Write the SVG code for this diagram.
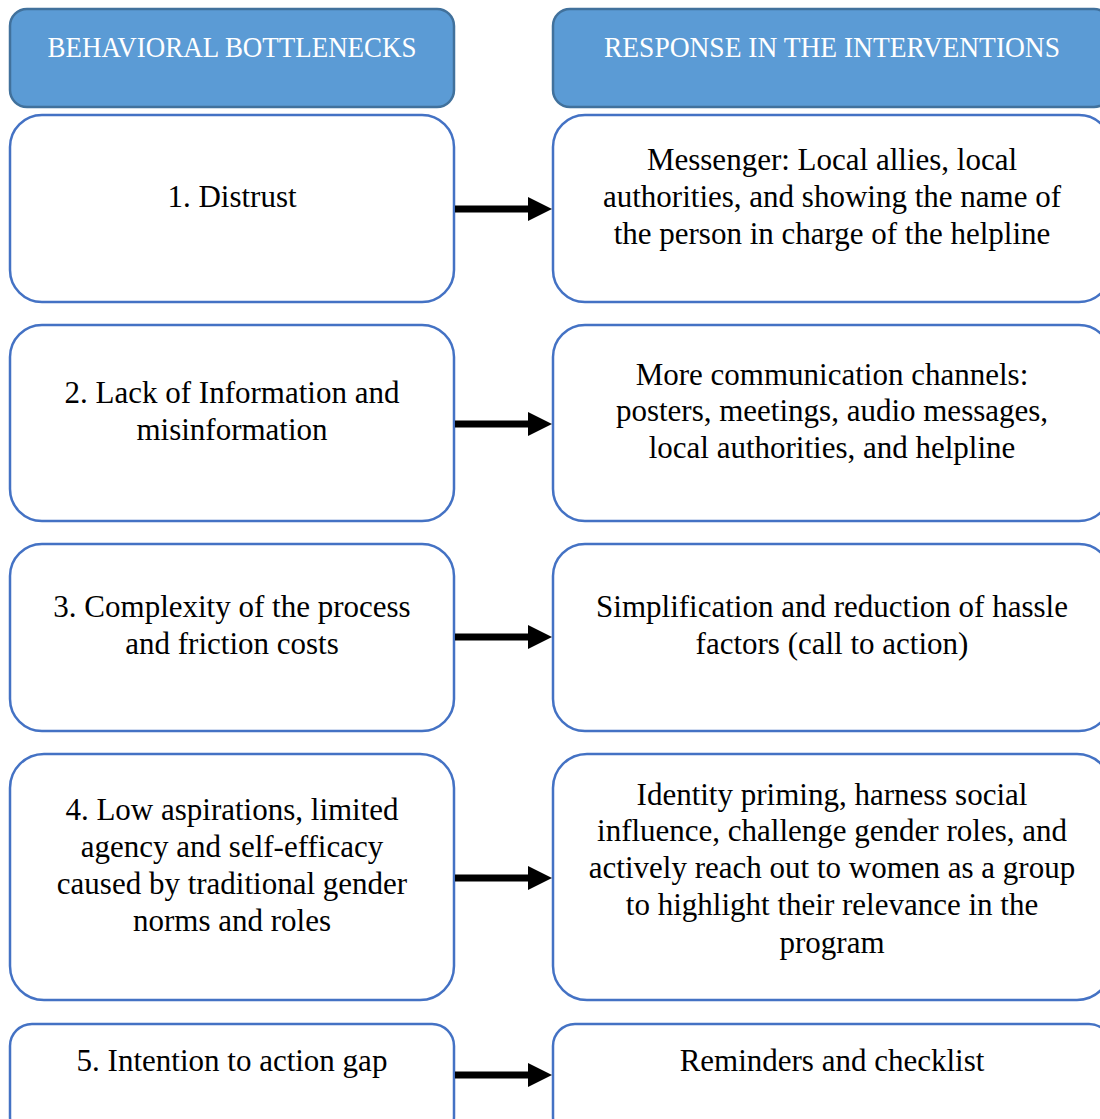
<svg xmlns="http://www.w3.org/2000/svg" width="1100" height="1119" viewBox="0 0 1100 1119">
<defs>
<style>
.hdr{fill:#5B9BD5;stroke:#41719C;stroke-width:2.5}
.box{fill:#FFFFFF;stroke:#4472C4;stroke-width:2.5}
.t{font-family:"Liberation Serif","Times New Roman",serif;font-size:31px;fill:#000;text-anchor:middle}
.ht{font-family:"Liberation Serif","Times New Roman",serif;font-size:30px;fill:#FFFFFF;text-anchor:middle}
.arr{stroke:#000;stroke-width:7;fill:none}
</style>
<marker id="ah" markerUnits="userSpaceOnUse" markerWidth="24" markerHeight="24" refX="2" refY="12" orient="auto" viewBox="0 0 24 24">
<path d="M0,0 L24,12 L0,24 Z" fill="#000"/>
</marker>
</defs>
<rect width="1100" height="1119" fill="#FFFFFF"/>
<g id="header-left"><rect class="hdr" x="10" y="9" width="444" height="98" rx="17"/><text class="ht" x="232" y="57" textLength="369" lengthAdjust="spacingAndGlyphs">BEHAVIORAL BOTTLENECKS</text></g>
<g id="header-right"><rect class="hdr" x="553" y="9" width="558" height="98" rx="17"/><text class="ht" x="832" y="57" textLength="456" lengthAdjust="spacingAndGlyphs">RESPONSE IN THE INTERVENTIONS</text></g>

<g id="b1"><rect class="box" x="10" y="115" width="444" height="187" rx="32"/><text class="t" x="232" y="207">1. Distrust</text></g>
<g id="r1"><rect class="box" x="553" y="115" width="558" height="187" rx="32"/><text class="t" x="832" y="170">Messenger: Local allies, local</text><text class="t" x="832" y="207">authorities, and showing the name of</text><text class="t" x="832" y="244">the person in charge of the helpline</text></g>

<g id="b2"><rect class="box" x="10" y="325" width="444" height="196" rx="32"/><text class="t" x="232" y="403">2. Lack of Information and</text><text class="t" x="232" y="440">misinformation</text></g>
<g id="r2"><rect class="box" x="553" y="325" width="558" height="196" rx="32"/><text class="t" x="832" y="385">More communication channels:</text><text class="t" x="832" y="421">posters, meetings, audio messages,</text><text class="t" x="832" y="458">local authorities, and helpline</text></g>

<g id="b3"><rect class="box" x="10" y="544" width="444" height="187" rx="32"/><text class="t" x="232" y="617">3. Complexity of the process</text><text class="t" x="232" y="654">and friction costs</text></g>
<g id="r3"><rect class="box" x="553" y="544" width="558" height="187" rx="32"/><text class="t" x="832" y="617">Simplification and reduction of hassle</text><text class="t" x="832" y="654">factors (call to action)</text></g>

<g id="b4"><rect class="box" x="10" y="754" width="444" height="246" rx="34"/><text class="t" x="232" y="820">4. Low aspirations, limited</text><text class="t" x="232" y="857">agency and self-efficacy</text><text class="t" x="232" y="894">caused by traditional gender</text><text class="t" x="232" y="931">norms and roles</text></g>
<g id="r4"><rect class="box" x="553" y="754" width="558" height="246" rx="34"/><text class="t" x="832" y="805">Identity priming, harness social</text><text class="t" x="832" y="841">influence, challenge gender roles, and</text><text class="t" x="832" y="878">actively reach out to women as a group</text><text class="t" x="832" y="915">to highlight their relevance in the</text><text class="t" x="832" y="953">program</text></g>

<g id="b5"><rect class="box" x="10" y="1024" width="444" height="115" rx="22"/><text class="t" x="232" y="1071">5. Intention to action gap</text></g>
<g id="r5"><rect class="box" x="553" y="1024" width="558" height="115" rx="22"/><text class="t" x="832" y="1071">Reminders and checklist</text></g>

<g id="connectors">
<line class="arr" x1="455" y1="209" x2="530" y2="209" marker-end="url(#ah)"/>
<line class="arr" x1="455" y1="424" x2="530" y2="424" marker-end="url(#ah)"/>
<line class="arr" x1="455" y1="637" x2="530" y2="637" marker-end="url(#ah)"/>
<line class="arr" x1="455" y1="878" x2="530" y2="878" marker-end="url(#ah)"/>
<line class="arr" x1="455" y1="1075" x2="530" y2="1075" marker-end="url(#ah)"/>
</g>
</svg>
